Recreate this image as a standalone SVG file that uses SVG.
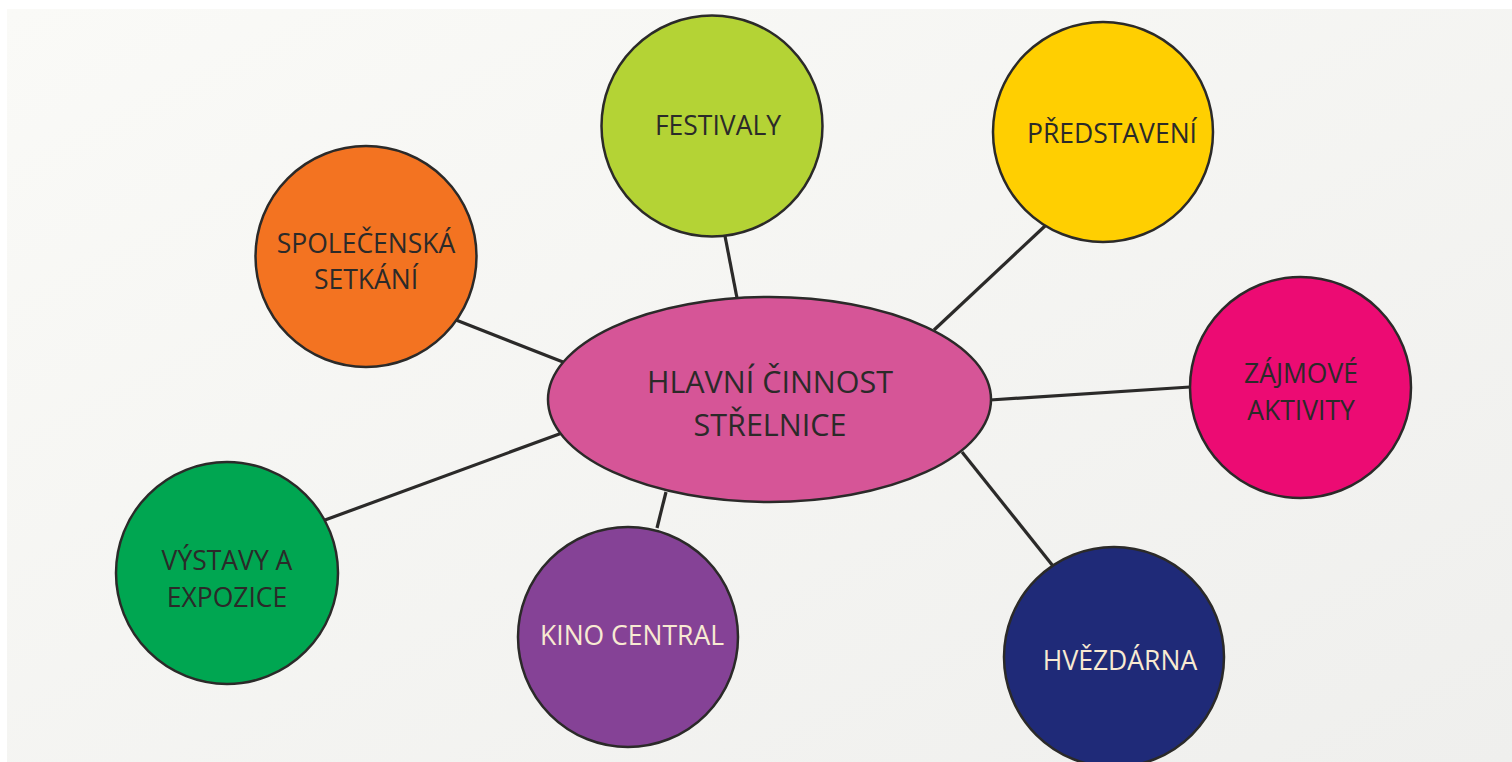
<svg xmlns="http://www.w3.org/2000/svg" width="1512" height="762" viewBox="0 0 1512 762">
<defs>
<linearGradient id="bg" x1="0" y1="0" x2="1" y2="1">
<stop offset="0" stop-color="#fafaf7"/>
<stop offset="1" stop-color="#efefed"/>
</linearGradient>
</defs>
<style>
.n{stroke:#2b2a29;stroke-width:2.5}
.c line{stroke:#2b2a29;stroke-width:3.2}
text{font-family:"Open Sans","Noto Sans","DejaVu Sans",sans-serif;font-size:26.5px;text-anchor:middle;fill:#2b2a29}
.lt{fill:#f8ead2}
.big{font-size:30.5px}
</style>
<rect width="1512" height="762" fill="#ffffff"/>
<rect x="7" y="9" width="1505" height="753" fill="url(#bg)"/>
<g class="c" id="connectors">
<line x1="725" y1="236" x2="737" y2="298"/>
<line x1="1045" y1="226" x2="934" y2="330"/>
<line x1="456" y1="320" x2="563" y2="362"/>
<line x1="990" y1="400" x2="1190" y2="387"/>
<line x1="325" y1="520" x2="562" y2="433"/>
<line x1="666" y1="492" x2="657" y2="528"/>
<line x1="962" y1="452" x2="1053" y2="566"/>
</g>
<g id="festivaly">
<circle class="n" cx="712" cy="126" r="110.5" fill="#b4d335"/>
<text x="718" y="135">FESTIVALY</text>
</g>
<g id="predstaveni">
<circle class="n" cx="1103" cy="132" r="110" fill="#ffcf01"/>
<text x="1112" y="143">PŘEDSTAVENÍ</text>
</g>
<g id="spolecenska">
<circle class="n" cx="366" cy="256.5" r="110.5" fill="#f37321"/>
<text x="366" y="253">SPOLEČENSKÁ</text>
<text x="366" y="289">SETKÁNÍ</text>
</g>
<g id="zajmove">
<circle class="n" cx="1300.5" cy="387.5" r="110.5" fill="#ec0b73"/>
<text x="1301" y="383">ZÁJMOVÉ</text>
<text x="1301" y="420">AKTIVITY</text>
</g>
<g id="vystavy">
<circle class="n" cx="227" cy="573" r="111" fill="#00a651"/>
<text x="227" y="570">VÝSTAVY A</text>
<text x="227" y="607">EXPOZICE</text>
</g>
<g id="kino">
<circle class="n" cx="628" cy="637" r="110" fill="#854296"/>
<text class="lt" x="632" y="645">KINO CENTRAL</text>
</g>
<g id="hvezdarna">
<circle class="n" cx="1114" cy="657" r="110" fill="#1f2a78"/>
<text class="lt" x="1120" y="670">HVĚZDÁRNA</text>
</g>
<g id="hlavni">
<ellipse class="n" cx="769.5" cy="399.5" rx="221.5" ry="102.5" fill="#d65597"/>
<text class="big" x="770" y="393">HLAVNÍ ČINNOST</text>
<text class="big" x="770" y="436">STŘELNICE</text>
</g>
</svg>
